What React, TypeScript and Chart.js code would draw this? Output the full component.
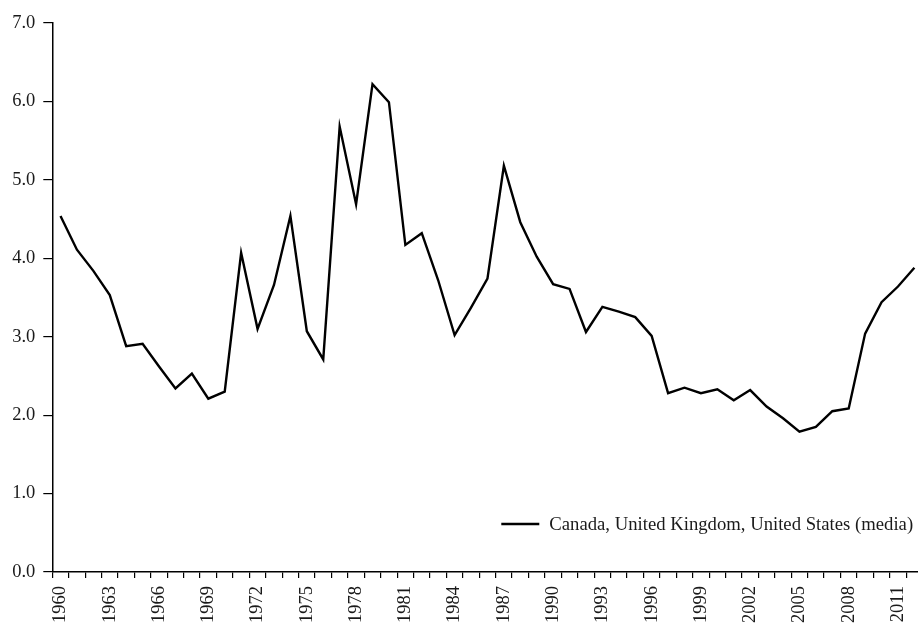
import React, { useEffect, useRef } from "react";
import { Chart, registerables } from "chart.js";

Chart.register(...registerables);

const years: string[] = [
  "1960","1961","1962","1963","1964","1965","1966","1967","1968","1969",
  "1970","1971","1972","1973","1974","1975","1976","1977","1978","1979",
  "1980","1981","1982","1983","1984","1985","1986","1987","1988","1989",
  "1990","1991","1992","1993","1994","1995","1996","1997","1998","1999",
  "2000","2001","2002","2003","2004","2005","2006","2007","2008","2009",
  "2010","2011","2012",
];

const mediaValues: number[] = [
  4.54, 4.11, 3.84, 3.53, 2.88, 2.91, 2.62, 2.34, 2.53, 2.21,
  2.30, 4.07, 3.10, 3.66, 4.54, 3.07, 2.71, 5.68, 4.69, 6.22,
  5.99, 4.17, 4.32, 3.72, 3.02, 3.37, 3.74, 5.18, 4.46, 4.02,
  3.67, 3.61, 3.06, 3.38, 3.32, 3.25, 3.01, 2.28, 2.35, 2.28,
  2.33, 2.19, 2.32, 2.11, 1.96, 1.79, 1.85, 2.05, 2.085, 3.04,
  3.44, 3.64, 3.88,
];

const seriesLabel = "Canada, United Kingdom, United States (media)";
const yTicks: number[] = [0, 1, 2, 3, 4, 5, 6, 7];
const labelEvery = 3;

const FONT = "'Liberation Serif', 'DejaVu Serif', serif";

const legendPlugin = {
  id: "insideLegend",
  afterDraw(chart: any) {
    const { ctx, chartArea } = chart;
    const ds = chart.data.datasets[0];
    ctx.save();
    ctx.font = `18.7px ${FONT}`;
    ctx.fillStyle = "#1a1a1a";
    ctx.textBaseline = "middle";
    ctx.textAlign = "left";
    const text = ds.label as string;
    const w = ctx.measureText(text).width;
    const textRight = chartArea.right - 9.5;
    const textX = textRight - w;
    const y = chartArea.bottom - 48;
    ctx.strokeStyle = ds.borderColor;
    ctx.lineWidth = ds.borderWidth;
    ctx.beginPath();
    ctx.moveTo(textX - 48, y);
    ctx.lineTo(textX - 10, y);
    ctx.stroke();
    ctx.fillText(text, textX, y + 1);
    ctx.restore();
  },
};

export default function App() {
  const ref = useRef<HTMLCanvasElement | null>(null);
  useEffect(() => {
    if (!ref.current) return;
    const chart = new Chart(ref.current, {
      type: "line",
      data: {
        labels: years,
        datasets: [
          {
            label: seriesLabel,
            data: mediaValues,
            borderColor: "#000000",
            borderWidth: 2.4,
            pointRadius: 0,
            tension: 0,
            fill: false,
          },
        ],
      },
      options: {
        responsive: false,
        animation: false,
        layout: { padding: { top: 23, right: 1.4, left: 0, bottom: 0 } },
        plugins: {
          legend: { display: false },
          tooltip: { enabled: false },
        },
        scales: {
          x: {
            type: "category",
            offset: true,
            grid: {
              offset: true,
              drawOnChartArea: false,
              drawTicks: true,
              tickLength: 6,
              color: "#000",
              lineWidth: 1.2,
            },
            border: { display: true, color: "#000", width: 1.5 },
            ticks: {
              autoSkip: false,
              maxRotation: 90,
              minRotation: 90,
              padding: 8,
              color: "#1a1a1a",
              font: { family: FONT, size: 18.5 },
              callback: function (_v: any, i: number) {
                return i % labelEvery === 0 ? years[i] : "";
              },
            },
            afterFit: (s: any) => {
              s.height = 55;
              s.paddingLeft = 0;
              s.paddingRight = 0;
            },
          },
          y: {
            min: 0,
            max: 7,
            afterBuildTicks: (s: any) => {
              s.ticks = yTicks.map((v) => ({ value: v }));
            },
            grid: {
              drawOnChartArea: false,
              drawTicks: true,
              tickLength: 9,
              color: "#000",
              lineWidth: 1.2,
            },
            border: { display: true, color: "#000", width: 1.5 },
            ticks: {
              padding: 8,
              color: "#1a1a1a",
              font: { family: FONT, size: 18.5 },
              callback: (v: any) => Number(v).toFixed(1),
            },
            afterFit: (s: any) => {
              s.width = 52.3;
              s.paddingTop = 0;
              s.paddingBottom = 0;
            },
          },
        },
      },
      plugins: [legendPlugin],
    });
    return () => chart.destroy();
  }, []);
  return (
    <div
      style={{
        position: "fixed",
        left: 0,
        top: 0,
        width: 918,
        height: 627,
        overflow: "hidden",
        background: "#fff",
      }}
    >
      <canvas ref={ref} width={924} height={627} style={{ display: "block" }} />
    </div>
  );
}
